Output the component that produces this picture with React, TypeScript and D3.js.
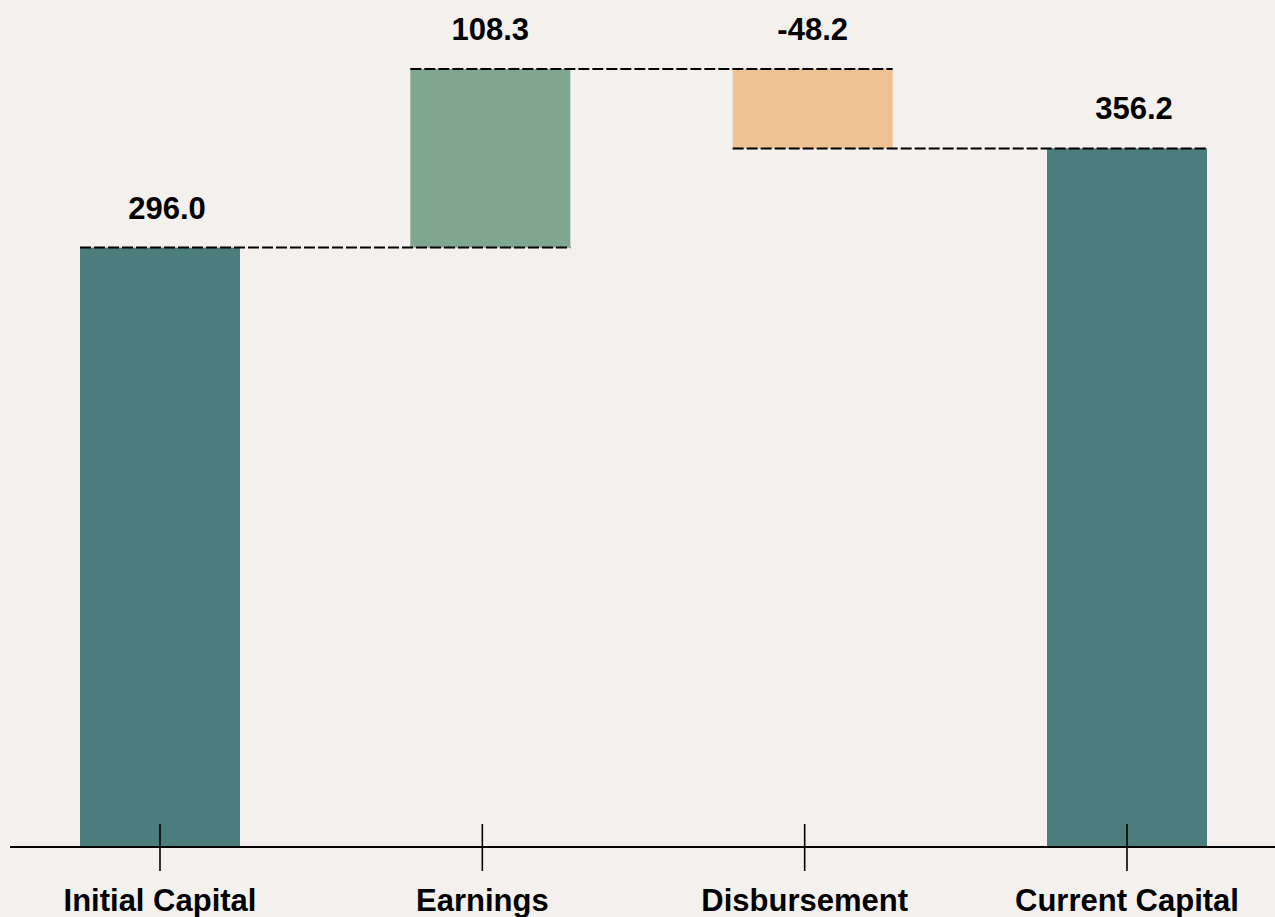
import React, { useEffect } from "react";
import * as d3 from "d3";

const categories = ["Initial Capital", "Earnings", "Disbursement", "Current Capital"];
const values = [296.0, 108.3, -48.2, 356.2];
const kinds = ["total", "delta", "delta", "total"];
const valueLabels = ["296.0", "108.3", "-48.2", "356.2"];

const W = 1275;
const H = 917;
const BG = "#f3f0ed";
const COLORS: Record<string, string> = {
  total: "#4c7d7d",
  up: "#7fa68f",
  down: "#eec293",
};
const FONT = "'Liberation Sans', Arial, Helvetica, sans-serif";

export default function App() {
  useEffect(() => {
    document.body.style.margin = "0";
    document.body.style.background = BG;
  }, []);

  const x = d3.scalePoint<string>().domain(categories).range([160, 1127]);
  const y = d3.scaleLinear().domain([-67.4, 404.3]).range([847, 69]);
  const barW = 160;
  const base = y.range()[0];

  let running = 0;
  const segs = categories.map((c, i) => {
    const v = values[i];
    let y0: number, y1: number, color: string;
    if (kinds[i] === "total") {
      running = v;
      y0 = NaN;
      y1 = v;
      color = COLORS.total;
    } else {
      y0 = running;
      running = running + v;
      y1 = running;
      color = v >= 0 ? COLORS.up : COLORS.down;
    }
    return { c, v, y0, y1, color, kind: kinds[i], end: running, label: valueLabels[i] };
  });

  const cx = (c: string, i: number) => (x(c) as number) + (kinds[i] === "delta" ? 8 : 0);

  return (
    <svg width={W} height={H} style={{ position: "absolute", left: 0, top: 0, display: "block" }}>
      <rect x={0} y={0} width={W} height={H} fill={BG} />
      {segs.map((s, i) => {
        const left = cx(s.c, i) - barW / 2;
        let top: number, bottom: number;
        if (s.kind === "total") {
          top = y(s.y1);
          bottom = base;
        } else {
          top = Math.min(y(s.y0), y(s.y1));
          bottom = Math.max(y(s.y0), y(s.y1));
        }
        return <rect key={s.c} x={left} y={top} width={barW} height={bottom - top} fill={s.color} />;
      })}
      {segs.slice(0, -1).map((s, i) => {
        const next = segs[i + 1];
        const ly = y(s.end);
        return (
          <line
            key={"conn" + i}
            x1={cx(s.c, i) - barW / 2}
            x2={cx(next.c, i + 1) + barW / 2}
            y1={ly}
            y2={ly}
            stroke="#000"
            strokeWidth={2}
            strokeDasharray="11,3"
          />
        );
      })}
      {segs.map((s, i) => {
        const topVal = s.kind === "total" ? s.y1 : Math.max(s.y0, s.y1);
        return (
          <text
            key={"lab" + s.c}
            x={cx(s.c, i) + (s.kind === "total" ? 7 : 0)}
            y={y(topVal) - 29}
            textAnchor="middle"
            fontFamily={FONT}
            fontWeight="bold"
            fontSize={31}
            fill="#000"
          >
            {s.label}
          </text>
        );
      })}
      <line x1={10} x2={W} y1={base} y2={base} stroke="#000" strokeWidth={2} />
      {categories.map((c) => (
        <g key={"tick" + c}>
          <line x1={x(c)} x2={x(c)} y1={base - 23} y2={base + 24} stroke="#000" strokeWidth={1.6} />
          <text
            x={x(c)}
            y={911}
            textAnchor="middle"
            fontFamily={FONT}
            fontWeight="bold"
            fontSize={31}
            fill="#000"
          >
            {c}
          </text>
        </g>
      ))}
    </svg>
  );
}
